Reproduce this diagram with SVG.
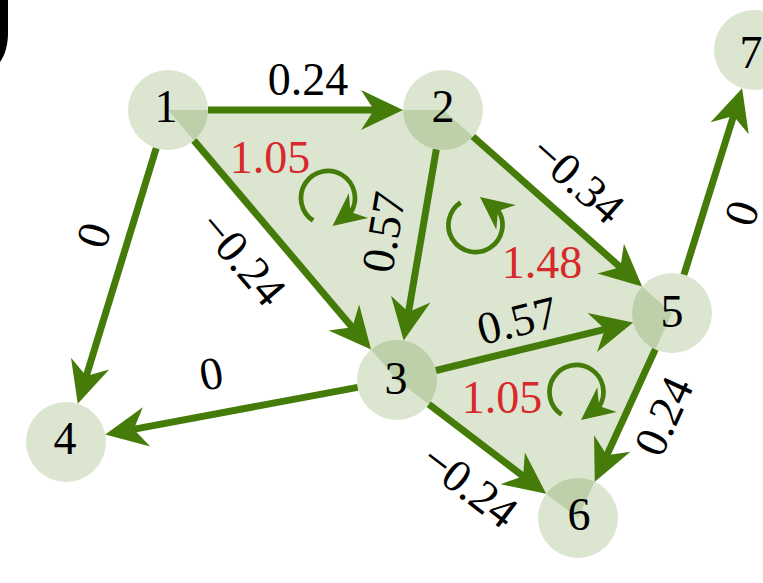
<svg xmlns="http://www.w3.org/2000/svg" xmlns:xlink="http://www.w3.org/1999/xlink" width="763" height="583" viewBox="0 0 763 583">
<style>
.face{fill:#3f7405;fill-opacity:0.19;stroke:none}
.node circle{fill:#3f7405;fill-opacity:0.19}
.node text,.lbl{font-family:"Liberation Serif","Times New Roman",serif;font-size:46px;fill:#000;text-anchor:middle}
.edge{stroke:#457b09;stroke-width:7;fill:none;marker-end:url(#arr)}
.red{font-family:"Liberation Serif","Times New Roman",serif;font-size:46px;fill:#d7292c;text-anchor:middle}
.curlarc{stroke:#457b09;stroke-width:4.7;fill:none}
</style>
<defs>
<path id="ah" d="M0,0 L-42,-20 L-29,0 L-42,20 Z" fill="#457b09"/>
<marker id="arr" viewBox="-43 -21 44 42" refX="-27" refY="0" markerWidth="44" markerHeight="42" markerUnits="userSpaceOnUse" orient="auto">
<path d="M0,0 L-42,-20 L-29,0 L-42,20 Z" fill="#457b09"/>
</marker>
<g id="curl">
<path class="curlarc" d="M-14.9,22.5 A27,27 0 1 1 22.6,14.7"/>
<use xlink:href="#ah" href="#ah" transform="translate(4.5,28) rotate(142) scale(0.786)"/>
</g>
</defs>
<rect width="763" height="583" fill="#fff"/>
<path d="M0,0 L8,0 L8,33 C8,45 5,55 0,62 Z" fill="#000"/>
<g id="faces">
<polygon class="face" points="168,110 443,110 397,380"/>
<polygon class="face" points="443,110 397,380 672,313"/>
<polygon class="face" points="397,380 672,313 578,518"/>
</g>
<g id="n1" class="node"><circle cx="168" cy="110" r="40"/><text x="166" y="122">1</text></g>
<g id="n2" class="node"><circle cx="443" cy="110" r="40"/><text x="443" y="122">2</text></g>
<g id="n3" class="node"><circle cx="397" cy="380" r="40"/><text x="396" y="394">3</text></g>
<g id="n4" class="node"><circle cx="66" cy="442" r="40"/><text x="65" y="454">4</text></g>
<g id="n5" class="node"><circle cx="672" cy="313" r="40"/><text x="672" y="327">5</text></g>
<g id="n6" class="node"><circle cx="578" cy="518" r="40"/><text x="579" y="530">6</text></g>
<g id="n7" class="node"><circle cx="754" cy="50" r="40"/><text x="751" y="68">7</text></g>
<g id="connectors">
<line class="edge" x1="208" y1="110" x2="376" y2="110"/>
<line class="edge" x1="193.9" y1="140.5" x2="353.6" y2="328.9"/>
<line class="edge" x1="156.2" y1="148.2" x2="85.7" y2="378"/>
<line class="edge" x1="436.3" y1="149.4" x2="408.2" y2="314"/>
<line class="edge" x1="472.9" y1="136.5" x2="621.9" y2="268.6"/>
<line class="edge" x1="435.9" y1="370.5" x2="606.9" y2="328.9"/>
<line class="edge" x1="357.7" y1="387.4" x2="131.8" y2="429.6"/>
<line class="edge" x1="428.8" y1="404.2" x2="524.7" y2="477.4"/>
<line class="edge" x1="655.3" y1="349.4" x2="606" y2="457.1"/>
<line class="edge" x1="683.9" y1="274.8" x2="734.1" y2="114"/>
<text class="lbl" transform="translate(308,79)" dy="0.35em">0.24</text>
<text class="lbl" transform="translate(243,258) rotate(49.7)" dy="0.35em">−0.24</text>
<text class="lbl" transform="translate(93,235) rotate(-73)" dy="0.35em">0</text>
<text class="lbl" transform="translate(383,232) rotate(-80.3)" dy="0.35em">0.57</text>
<text class="lbl" transform="translate(578,179) rotate(41.6)" dy="0.35em">−0.34</text>
<text class="lbl" transform="translate(517,320) rotate(-14)" dy="0.35em">0.57</text>
<text class="lbl" transform="translate(211,373) rotate(-10.6)" dy="0.35em">0</text>
<text class="lbl" transform="translate(470,485) rotate(37.3)" dy="0.35em">−0.24</text>
<text class="lbl" transform="translate(663,416) rotate(-65.4)" dy="0.35em">0.24</text>
<text class="lbl" transform="translate(741,213) rotate(-72.7)" dy="0.35em">0</text>
</g>
<g id="curls">
<use xlink:href="#curl" href="#curl" transform="translate(328,198)"/>
<use xlink:href="#curl" href="#curl" transform="translate(475.5,225) scale(1,-1)"/>
<use xlink:href="#curl" href="#curl" transform="translate(576.5,392)"/>
<text class="red" x="270" y="173">1.05</text>
<text class="red" x="542" y="278">1.48</text>
<text class="red" x="502" y="413">1.05</text>
</g>
</svg>
